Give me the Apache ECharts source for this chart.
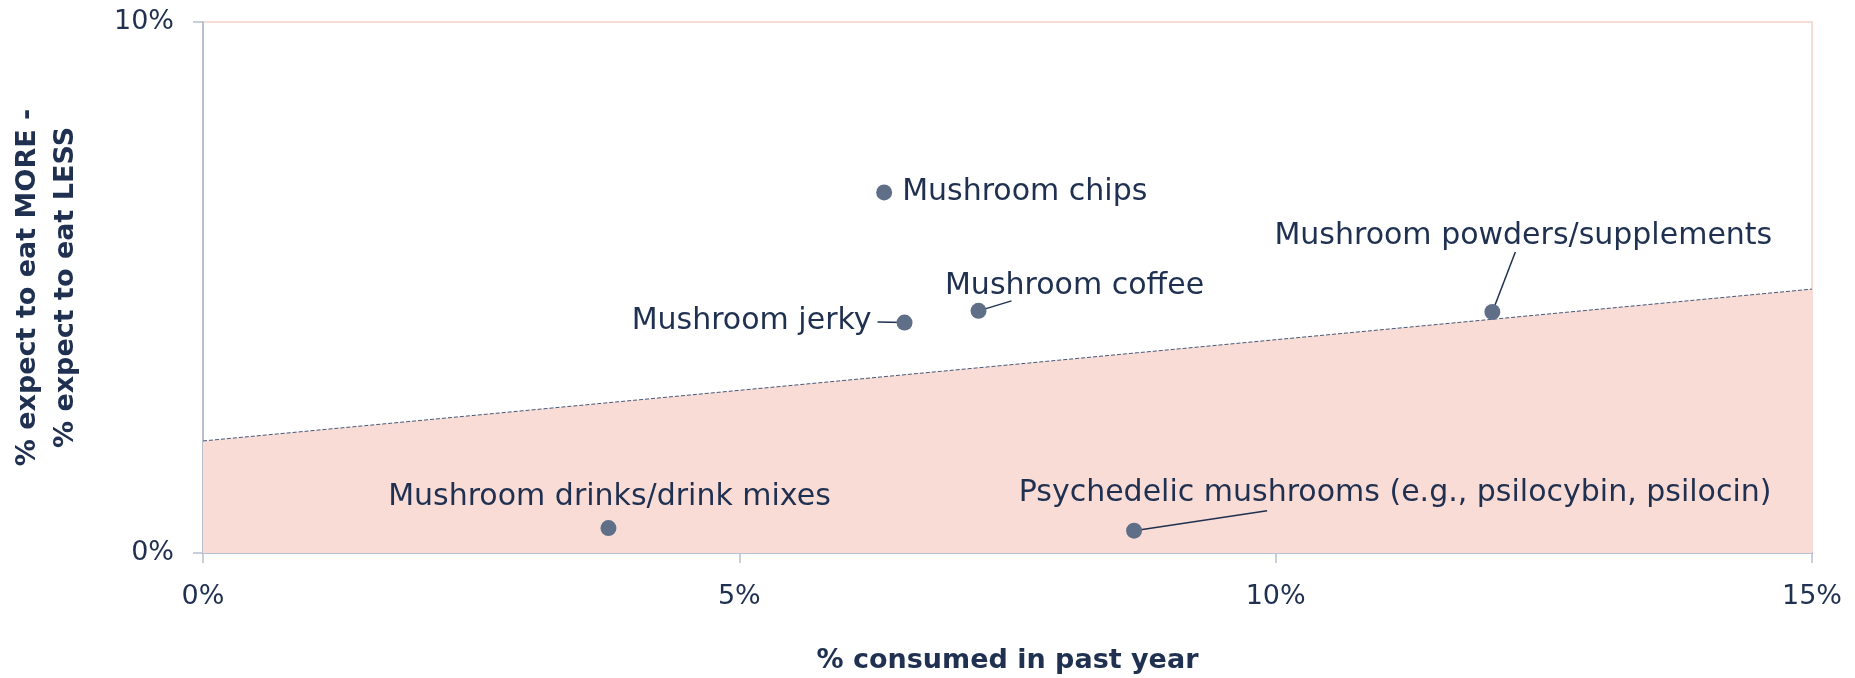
<!DOCTYPE html>
<html>
<head>
<meta charset="utf-8">
<script src="https://cdn.jsdelivr.net/npm/echarts@6/dist/echarts.min.js"></script>
<style>
  html, body { margin: 0; padding: 0; background: #ffffff; }
  #chart { width: 1855px; height: 678px; }
</style>
</head>
<body>
<div id="chart"></div>
<script>
// Mushroom product categories
const products = [
  'Mushroom chips',
  'Mushroom jerky',
  'Mushroom coffee',
  'Mushroom powders/supplements',
  'Mushroom drinks/drink mixes',
  'Psychedelic mushrooms (e.g., psilocybin, psilocin)'
];
// % consumed in past year
const consumedPct = [6.35, 6.54, 7.23, 12.02, 3.78, 8.68];
// % expect to eat MORE minus % expect to eat LESS
const netExpectPct = [6.79, 4.34, 4.56, 4.54, 0.47, 0.42];

// Reference line endpoints (x in %, y in %)
const refLineX = [0, 15];
const refLineY = [2.11, 4.97];

// Axis ticks
const xTicks = [0, 5, 10, 15];
const yTicks = [0, 10];

const NAVY = '#1f3050';
const FONT = 'DejaVu Sans';

// Label placement per point (pixels): where the label sits relative to the dot,
// and the end of the leader line (null = no leader line)
const labelPlacement = [
  { pos: 'right', dist: 10, dx: 0,   dy: 0,   leader: null },
  { pos: 'left',  dist: 25, dx: 0,   dy: -1,  leader: [-27, -0.5] },
  { pos: 'inside', dist: 0, dx: 96,  dy: -25, leader: [33, -10] },
  { pos: 'inside', dist: 0, dx: 31,  dy: -76, leader: [23, -60] },
  { pos: 'inside', dist: 0, dx: 1,   dy: -31, leader: null },
  { pos: 'inside', dist: 0, dx: 261, dy: -37, leader: [133, -20] }
];

const points = products.map((name, i) => [consumedPct[i], netExpectPct[i]]);

const scatterData = products.map((name, i) => ({
  name: name,
  value: points[i],
  label: { position: labelPlacement[i].pos, distance: labelPlacement[i].dist }
}));

const chart = echarts.init(document.getElementById('chart'), null, { renderer: 'canvas' });

chart.setOption({
  animation: false,
  backgroundColor: '#ffffff',
  grid: {
    left: 203, right: 43, top: 22, bottom: 125,
    outerBoundsMode: 'none',
    containLabel: false,
    show: true,
    borderColor: '#f9dcd6',
    borderWidth: 2,
    backgroundColor: 'transparent'
  },
  xAxis: {
    type: 'value',
    min: 0, max: 15, interval: 5,
    name: '% consumed in past year',
    nameLocation: 'middle',
    nameGap: 94,
    nameTextStyle: { fontFamily: FONT, fontWeight: 'bold', fontSize: 27, color: NAVY },
    axisLine: { show: true, onZero: false, lineStyle: { color: '#b8bfcf', width: 2 } },
    axisTick: { show: true, length: 10, lineStyle: { color: '#b8bfcf', width: 1.5 } },
    splitLine: { show: false },
    axisLabel: {
      margin: 30,
      fontFamily: FONT, fontSize: 27, color: NAVY,
      formatter: v => xTicks.includes(v) ? v + '%' : ''
    }
  },
  yAxis: {
    type: 'value',
    min: 0, max: 10, interval: 10,
    name: '% expect to eat MORE -\n% expect to eat LESS',
    nameLocation: 'middle',
    nameGap: 118,
    nameRotate: 90,
    nameTextStyle: { fontFamily: FONT, fontWeight: 'bold', fontSize: 27, color: NAVY, lineHeight: 38, align: 'center' },
    axisLine: { show: true, onZero: false, lineStyle: { color: '#b8bfcf', width: 2 } },
    axisTick: { show: true, length: 10, lineStyle: { color: '#b8bfcf', width: 1.5 } },
    splitLine: { show: false },
    axisLabel: {
      margin: 29,
      fontFamily: FONT, fontSize: 27, color: NAVY,
      formatter: v => yTicks.includes(v) ? v + '%' : ''
    }
  },
  series: [
    {
      // threshold line with shaded region below it
      type: 'line',
      data: refLineX.map((x, i) => [x, refLineY[i]]),
      symbol: 'none',
      silent: true,
      z: 1,
      lineStyle: { color: '#44597a', width: 1, type: [4, 2] },
      areaStyle: { color: '#f9dcd6', opacity: 1 }
    },
    {
      // leader lines from dots to their labels
      type: 'custom',
      data: points,
      silent: true,
      z: 3,
      renderItem: (params, api) => {
        const end = labelPlacement[params.dataIndex].leader;
        if (!end) return null;
        const p = api.coord([api.value(0), api.value(1)]);
        return {
          type: 'line',
          shape: { x1: p[0], y1: p[1], x2: p[0] + end[0], y2: p[1] + end[1] },
          style: { stroke: NAVY, lineWidth: 1.5 }
        };
      }
    },
    {
      type: 'scatter',
      data: scatterData,
      symbol: 'circle',
      symbolSize: 16,
      z: 5,
      itemStyle: { color: '#5f6f88', opacity: 1 },
      label: {
        show: true,
        formatter: p => p.name,
        fontFamily: FONT,
        fontSize: 30,
        color: NAVY
      },
      labelLayout: params => ({
        dx: labelPlacement[params.dataIndex].dx,
        dy: labelPlacement[params.dataIndex].dy,
        hideOverlap: false
      })
    }
  ]
});
</script>
</body>
</html>
